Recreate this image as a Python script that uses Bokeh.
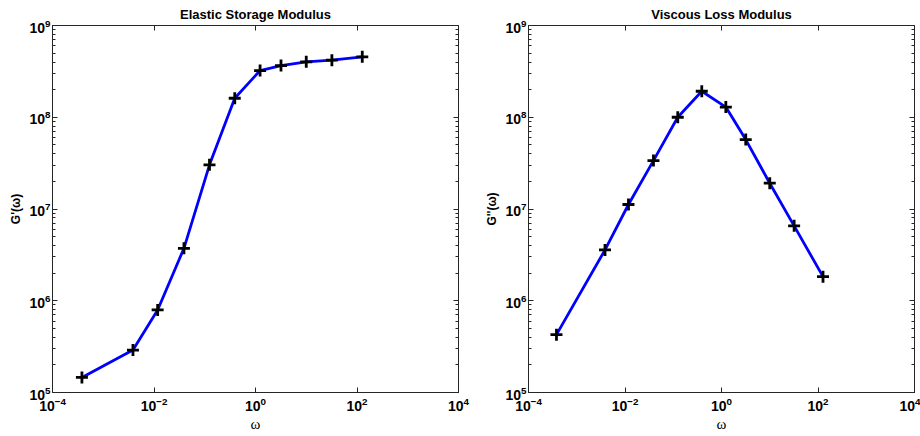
from bokeh.plotting import figure
from bokeh.models import FixedTicker, LogAxis
from bokeh.layouts import row
from bokeh.embed import file_html
from bokeh.resources import INLINE

# data
omega = [3.8e-4, 3.85e-3, 0.0118, 0.0389, 0.124, 0.39, 1.23, 3.18, 10.0, 32.0, 127.0]
g_storage = [1.46e5, 2.9e5, 7.94e5, 3.73e6, 3.03e7, 1.61e8, 3.23e8, 3.66e8, 4.02e8, 4.19e8, 4.56e8]
g_loss = [4.27e5, 3.58e6, 1.12e7, 3.37e7, 1.0e8, 1.92e8, 1.29e8, 5.71e7, 1.91e7, 6.55e6, 1.83e6]

x_major = [1e-4, 1e-2, 1e0, 1e2, 1e4]
y_major = [1e5, 1e6, 1e7, 1e8, 1e9]
y_minor = [k * 10.0 ** d for d in range(5, 9) for k in range(2, 10)]

AX = "#262626"
FONT = "Liberation Sans"


def style_axis(ax, show_labels=True):
    ax.major_tick_in = 5
    ax.major_tick_out = 0
    ax.minor_tick_in = 3
    ax.minor_tick_out = 0
    ax.axis_line_color = AX
    ax.major_tick_line_color = AX
    ax.minor_tick_line_color = AX
    ax.major_label_text_font = FONT
    ax.major_label_text_font_style = "bold"
    ax.major_label_text_color = "black"
    if show_labels:
        ax.major_label_text_font_size = "14px"
    else:
        ax.major_label_text_font_size = "1px"
        ax.major_label_text_alpha = 0
        ax.major_label_standoff = 0


def make(title, ylabel, y, width, bl, br):
    p = figure(width=width, height=436, x_axis_type="log", y_axis_type="log",
               x_range=(1e-4, 1e4), y_range=(1e5, 1e9),
               output_backend="svg", toolbar_location=None,
               min_border_left=bl, min_border_right=br,
               min_border_top=25, min_border_bottom=44)
    p.title.text = title
    p.title.align = "center"
    p.title.text_font = FONT
    p.title.text_font_size = "13px"
    p.title.text_font_style = "bold"
    p.title.text_color = "black"
    p.title.standoff = 8
    p.xgrid.visible = False
    p.ygrid.visible = False
    p.outline_line_color = AX
    p.background_fill_color = "white"
    p.border_fill_color = "white"

    p.xaxis.ticker = FixedTicker(ticks=x_major, minor_ticks=[])
    p.yaxis.ticker = FixedTicker(ticks=y_major, minor_ticks=y_minor)
    style_axis(p.xaxis[0])
    style_axis(p.yaxis[0])
    p.xaxis.major_label_standoff = 4
    p.yaxis.major_label_standoff = 2
    p.xaxis.axis_label = "ω"
    p.xaxis.axis_label_text_font = "Liberation Serif"
    p.xaxis.axis_label_text_font_style = "normal"
    p.xaxis.axis_label_text_font_size = "15px"
    p.xaxis.axis_label_text_color = "black"
    p.xaxis.axis_label_standoff = 2
    p.yaxis.axis_label = ylabel
    p.yaxis.axis_label_text_font = FONT
    p.yaxis.axis_label_text_font_style = "bold"
    p.yaxis.axis_label_text_font_size = "12px"
    p.yaxis.axis_label_text_color = "black"
    p.yaxis.axis_label_standoff = 3

    top = LogAxis(ticker=FixedTicker(ticks=x_major, minor_ticks=[]))
    style_axis(top, show_labels=False)
    p.add_layout(top, "above")
    right = LogAxis(ticker=FixedTicker(ticks=y_major, minor_ticks=y_minor))
    style_axis(right, show_labels=False)
    p.add_layout(right, "right")

    p.line(omega, y, line_color="#0000ff", line_width=2.8)
    p.scatter(omega, y, marker="cross", size=12, line_color="black", line_width=2.8)
    return p


p1 = make("Elastic Storage Modulus", "G'(ω)", g_storage, 475, 52, 17)
p2 = make("Viscous Loss Modulus", "G''(ω)", g_loss, 445, 53, 6)

layout = row(p1, p2)
open("out.html", "w").write(file_html(layout, INLINE))
